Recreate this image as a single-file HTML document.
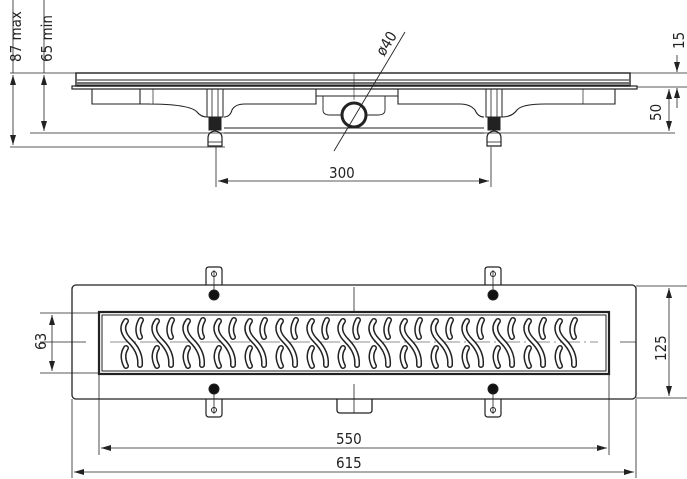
<!DOCTYPE html>
<html><head><style>
html,body{margin:0;padding:0;background:#fff;}
svg{display:block;}
text{font-family:"DejaVu Sans Condensed","Liberation Sans",sans-serif;fill:#222;}
</style></head><body>
<svg width="687" height="479" viewBox="0 0 687 479" xmlns="http://www.w3.org/2000/svg">
<defs>
<marker id="a" viewBox="0 0 10 6" refX="10" refY="3" markerWidth="10" markerHeight="6" orient="auto-start-reverse" markerUnits="userSpaceOnUse"><path d="M0,0 L10,3 L0,6 z" fill="#222"/></marker>
</defs>
<g stroke="#222" fill="none" stroke-width="1">
<!-- ===== SIDE VIEW ===== -->
<!-- dimension extension lines -->
<line x1="10" y1="73" x2="100" y2="73" stroke-width="0.8"/>
<line x1="600" y1="73" x2="687" y2="73" stroke-width="0.8"/>
<line x1="637" y1="87" x2="687" y2="87" stroke-width="0.8"/>
<line x1="30" y1="133" x2="675" y2="133" stroke-width="0.8"/>
<line x1="10" y1="147" x2="225" y2="147" stroke-width="0.8"/>
<line x1="13" y1="75" x2="13" y2="145" stroke-width="0.8" marker-start="url(#a)" marker-end="url(#a)"/>
<line x1="13" y1="0" x2="13" y2="73" stroke-width="0.8"/>
<line x1="44" y1="75" x2="44" y2="131" stroke-width="0.8" marker-start="url(#a)" marker-end="url(#a)"/>
<line x1="44" y1="0" x2="44" y2="73" stroke-width="0.8"/>
<line x1="677" y1="55" x2="677" y2="72" stroke-width="0.8" marker-end="url(#a)"/>
<line x1="677" y1="88" x2="677" y2="108" stroke-width="0.8" marker-start="url(#a)"/>
<line x1="669" y1="89" x2="669" y2="131" stroke-width="0.8" marker-start="url(#a)" marker-end="url(#a)"/>
<line x1="216" y1="147" x2="216" y2="187" stroke-width="0.8"/>
<line x1="491" y1="147" x2="491" y2="187" stroke-width="0.8"/>
<line x1="218" y1="181" x2="489" y2="181" stroke-width="0.8" marker-start="url(#a)" marker-end="url(#a)"/>
<!-- grate top -->
<rect x="76" y="73" width="554" height="13" stroke-width="1.4"/>
<line x1="77" y1="80" x2="629" y2="80" stroke-width="1"/>
<line x1="77" y1="83" x2="629" y2="83" stroke-width="1.2"/>
<line x1="77" y1="85" x2="629" y2="85" stroke-width="1"/>
<!-- flange -->
<rect x="72" y="86" width="565" height="3" stroke-width="1.2"/>
<line x1="354" y1="73" x2="354" y2="100" stroke-width="0.6"/>
<!-- left body -->
<path d="M92,89 V104 H150 M140,89 V104 M92,104 H147 Q190,104 197,112 Q201,117 207,117" stroke-width="1.1"/>
<rect x="92" y="89" width="140" height="15" stroke-width="1.1" fill="none" stroke-opacity="0"/>
<line x1="92" y1="89" x2="92" y2="104"/>
<line x1="153" y1="89" x2="153" y2="104" stroke-width="0.7"/>
<path d="M224,117 Q230,117 232,110 Q235,104 245,104 H316 V89" stroke-width="1.1"/>
<!-- right body -->
<path d="M615,89 V104 H545 Q522,104 517,110 Q512,117 502,117" stroke-width="1.1"/>
<line x1="583" y1="89" x2="583" y2="104" stroke-width="0.7"/>
<path d="M484,117 Q478,117 475,110 Q470,104 460,104 H398 V89" stroke-width="1.1"/>
<!-- middle channel -->
<path d="M316,96 H398" stroke-width="1"/>
<path d="M323,96 V110 Q323,115 330,115 H341 M367,115 H378 Q385,115 385,110 V96" stroke-width="0.9"/>
<!-- bottom rail -->
<line x1="224" y1="128" x2="484" y2="128" stroke-width="0.9"/>
<line x1="224" y1="133" x2="484" y2="133" stroke-width="0.9"/>
<!-- legs -->
<g id="leg">
<rect x="207" y="89" width="16" height="28" stroke-width="1"/>
<line x1="212" y1="89" x2="212" y2="117" stroke-width="0.8"/>
<line x1="218" y1="89" x2="218" y2="117" stroke-width="0.8"/>
<rect x="209" y="118" width="12" height="12" fill="#222"/>
<path d="M208,138 Q208,132 215,131 Q222,132 222,138 V146 H208 Z" stroke-width="1.2"/>
<line x1="208" y1="142" x2="222" y2="142" stroke-width="0.8"/>
</g>
<use href="#leg" x="279"/>
<!-- pipe -->
<circle cx="354" cy="115" r="12" stroke-width="3"/>
<line x1="334" y1="151" x2="405" y2="32" stroke-width="0.9"/>
<!-- ===== PLAN VIEW ===== -->
<rect x="72" y="285" width="564" height="114" rx="4" stroke-width="1.3"/>
<rect x="99" y="312" width="510" height="62" stroke-width="2.2"/>
<rect x="102" y="315" width="504" height="56" stroke-width="1"/>
<!-- tabs -->
<path d="M206,285 V270 Q206,267 209,267 H219 Q222,267 222,270 V285" stroke-width="1.2"/>
<path d="M485,285 V270 Q485,267 488,267 H498 Q501,267 501,270 V285" stroke-width="1.2"/>
<path d="M206,399 V414 Q206,417 209,417 H219 Q222,417 222,414 V399" stroke-width="1.2"/>
<path d="M485,399 V414 Q485,417 488,417 H498 Q501,417 501,414 V399" stroke-width="1.2"/>
<circle cx="214" cy="274" r="2.5"/><circle cx="493" cy="274" r="2.5"/>
<circle cx="214" cy="410" r="2.5"/><circle cx="493" cy="410" r="2.5"/>
<line x1="214" y1="270" x2="214" y2="296" stroke-width="0.8"/><line x1="493" y1="270" x2="493" y2="296" stroke-width="0.8"/>
<line x1="214" y1="389" x2="214" y2="414" stroke-width="0.8"/><line x1="493" y1="389" x2="493" y2="414" stroke-width="0.8"/>
<circle cx="214" cy="295" r="5" fill="#111"/><circle cx="493" cy="295" r="5" fill="#111"/>
<circle cx="214" cy="389" r="5" fill="#111"/><circle cx="493" cy="389" r="5" fill="#111"/>
<!-- outlet -->
<path d="M337,399 V410 Q337,413 340,413 H369 Q372,413 372,410 V399" stroke-width="1.3"/>
<line x1="354" y1="287" x2="354" y2="312" stroke-width="0.8"/>
<line x1="354" y1="384" x2="354" y2="413" stroke-width="0.8"/>
<!-- center lines -->
<line x1="40" y1="342" x2="86" y2="342" stroke-width="0.7"/>
<line x1="620" y1="342" x2="636" y2="342" stroke-width="0.7"/>
<line x1="110" y1="342" x2="598" y2="342" stroke-width="0.5" stroke-dasharray="20 4 2 4"/>
<!-- dimension lines plan -->
<line x1="40" y1="313" x2="99" y2="313" stroke-width="0.8"/>
<line x1="40" y1="373" x2="99" y2="373" stroke-width="0.8"/>
<line x1="52" y1="315" x2="52" y2="371" stroke-width="0.8" marker-start="url(#a)" marker-end="url(#a)"/>
<line x1="636" y1="286" x2="687" y2="286" stroke-width="0.8"/>
<line x1="636" y1="398" x2="687" y2="398" stroke-width="0.8"/>
<line x1="669" y1="288" x2="669" y2="396" stroke-width="0.8" marker-start="url(#a)" marker-end="url(#a)"/>
<line x1="99" y1="374" x2="99" y2="455" stroke-width="0.8"/>
<line x1="609" y1="374" x2="609" y2="455" stroke-width="0.8"/>
<line x1="72" y1="399" x2="72" y2="478" stroke-width="0.8"/>
<line x1="636" y1="399" x2="636" y2="478" stroke-width="0.8"/>
<line x1="101" y1="448" x2="607" y2="448" stroke-width="0.8" marker-start="url(#a)" marker-end="url(#a)"/>
<line x1="74" y1="472" x2="634" y2="472" stroke-width="0.8" marker-start="url(#a)" marker-end="url(#a)"/>
</g>
<!-- slots -->
<g fill="none" stroke-linecap="round">
<g id="slots" >
<g stroke="#222" stroke-width="6">
<path id="s1" d="M126,321 Q119,330 130,341 Q141,352 140,365"/>
<path id="s2" d="M141,320 Q136,329 140,337"/>
<path id="s3" d="M126,348 Q121,356 126,366"/>
</g>
<g stroke="#fff" stroke-width="3">
<use href="#s1"/><use href="#s2"/><use href="#s3"/>
</g>
</g>
<use href="#slots" x="31"/><use href="#slots" x="62"/><use href="#slots" x="93"/>
<use href="#slots" x="124"/><use href="#slots" x="155"/><use href="#slots" x="186"/>
<use href="#slots" x="217"/><use href="#slots" x="248"/><use href="#slots" x="279"/>
<use href="#slots" x="310"/><use href="#slots" x="341"/><use href="#slots" x="372"/>
<use href="#slots" x="403"/><use href="#slots" x="434"/>
</g>
<!-- texts -->
<g font-size="15">
<text x="329" y="178">300</text>
<text x="336" y="444">550</text>
<text x="336" y="468">615</text>
<text transform="translate(21,62) rotate(-90)">87 max</text>
<text transform="translate(52,62) rotate(-90)">65 min</text>
<text transform="translate(684,49) rotate(-90)">15</text>
<text transform="translate(661,121) rotate(-90)">50</text>
<text transform="translate(46,350) rotate(-90)">63</text>
<text transform="translate(666,361) rotate(-90)">125</text>
<text transform="translate(384,57) rotate(-58)">ø40</text>
</g>
</svg>
</body></html>
